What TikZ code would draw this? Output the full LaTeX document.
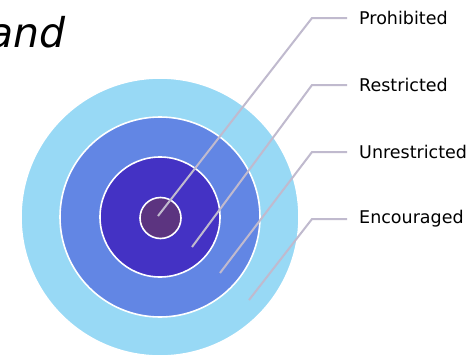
\documentclass[tikz,border=0pt]{standalone}
\usepackage{fontspec}
\setmainfont{DejaVu Sans}
\definecolor{ringA}{RGB}{152,217,245}
\definecolor{ringB}{RGB}{98,134,228}
\definecolor{ringC}{RGB}{68,50,196}
\definecolor{ringD}{RGB}{92,52,128}
\definecolor{leader}{RGB}{192,186,206}
\begin{document}
\begin{tikzpicture}[x=1pt,y=-1pt,
  ring/.style={draw=white,line width=1.6pt},
  lead/.style={draw=leader,line width=2pt},
  lab/.style={anchor=west,inner sep=0pt,font=\fontsize{17.5}{20}\selectfont}]
\useasboundingbox (0,0) rectangle (476,356);
\fill[white] (0,0) rectangle (476,356);
\node[inner sep=0pt,anchor=base east,font=\fontsize{41}{48}\selectfont\itshape] (t) at (66,47) {and};
\node[ring,fill=ringA,circle,minimum size=278pt,inner sep=0pt] (c1) at (160,217) {};
\node[ring,fill=ringB,circle,minimum size=200pt,inner sep=0pt] (c2) at (160,217) {};
\node[ring,fill=ringC,circle,minimum size=120pt,inner sep=0pt] (c3) at (160,217) {};
\node[ring,fill=ringD,circle,minimum size=41pt,inner sep=0pt] (c4) at (160.5,218) {};
\coordinate (p0) at (158,216); \coordinate (p1) at (312,18); \coordinate (p2) at (347,18);
\coordinate (r0) at (192,247); \coordinate (r1) at (312,85); \coordinate (r2) at (347,85);
\coordinate (u0) at (220,273); \coordinate (u1) at (312,152); \coordinate (u2) at (347,152);
\coordinate (e0) at (249,300); \coordinate (e1) at (312,219); \coordinate (e2) at (347,219);
\draw[lead] (p0) -- (p1) -- (p2);
\draw[lead] (r0) -- (r1) -- (r2);
\draw[lead] (u0) -- (u1) -- (u2);
\draw[lead] (e0) -- (e1) -- (e2);
\node[lab] (lp) at (359,18) {Prohibited};
\node[lab] (lr) at (359,85) {Restricted};
\node[lab] (lu) at (359,152) {Unrestricted};
\node[lab] (le) at (359,219) {Encouraged};
\end{tikzpicture}
\end{document}
